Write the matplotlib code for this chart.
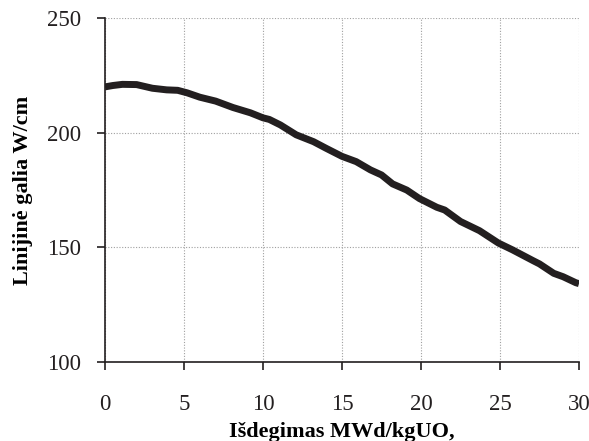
import matplotlib.pyplot as plt

plt.rcParams['font.family'] = ['Liberation Serif', 'DejaVu Serif']

# burnup (MWd/kgUO2) vs linear power (W/cm)
burnup = [0, 0.5, 1.1, 2.0, 3.0, 3.9, 4.6, 5.2, 6.0, 7.0, 8.1, 9.2, 10.0,
          10.4, 11.1, 12.1, 13.2, 14.0, 15.0, 15.9, 16.8, 17.5, 18.2, 19.1,
          19.9, 21.0, 21.5, 22.5, 23.7, 24.9, 25.8, 27.1, 27.5, 28.4, 29.0,
          29.8, 30.0]
power = [220.0, 220.6, 221.1, 221.0, 219.4, 218.7, 218.5, 217.4, 215.5,
         213.8, 211.0, 208.7, 206.5, 205.8, 203.4, 199.1, 196.1, 193.2,
         189.7, 187.4, 183.8, 181.6, 177.7, 175.0, 171.3, 167.5, 166.3,
         161.3, 157.3, 151.9, 148.9, 144.2, 142.8, 138.7, 137.2, 134.6, 134.2]

xticks = [0, 5, 10, 15, 20, 25, 30]
yticks = [100, 150, 200, 250]

fig = plt.figure(figsize=(5.89, 4.41), dpi=100)
ax = fig.add_axes([0.1783, 0.179, 0.8047, 0.780])

ax.plot(burnup, power, color='#231f20', linewidth=5, solid_capstyle='butt',
        zorder=3)

ax.set_xlim(0, 30)
ax.set_ylim(100, 250)
ax.set_xticks(xticks)
ax.set_yticks(yticks)
ax.grid(True, linestyle=(0, (1, 1.5)), color='#a0a0a0', linewidth=0.8)

for side in ('top', 'right'):
    ax.spines[side].set_visible(False)
for side in ('left', 'bottom'):
    ax.spines[side].set_color('#231f20')
    ax.spines[side].set_linewidth(1.2)

ax.tick_params(axis='both', labelsize=16.5, direction='out', length=6,
               width=1.2, colors='#231f20')
ax.tick_params(axis='x', pad=17)
ax.tick_params(axis='y', pad=11)

ax.set_ylabel('Linijinė galia W/cm', fontsize=16, fontweight='bold',
              labelpad=10)
ax.set_xlabel('Išdegimas MWd/kgUO,', fontsize=16, fontweight='bold',
              labelpad=5)

fig.savefig('out.png', dpi=100)
